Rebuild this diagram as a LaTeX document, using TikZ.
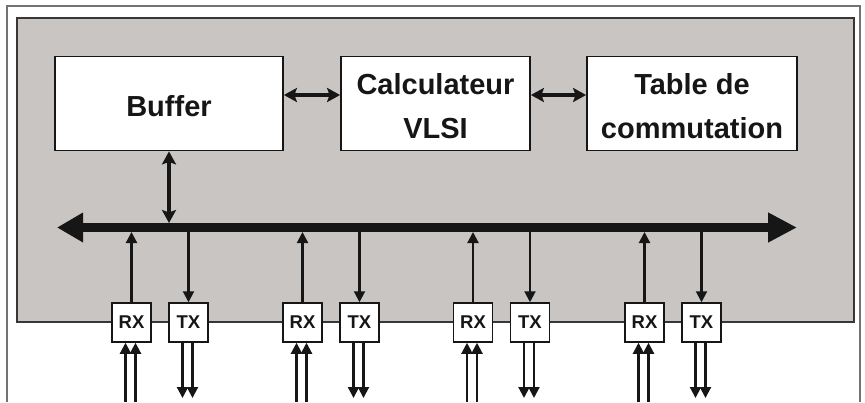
\documentclass[tikz,border=0pt]{standalone}
\usepackage{fontspec}
\setmainfont{Liberation Sans}
\usetikzlibrary{arrows.meta,calc}
\definecolor{panelgray}{RGB}{200,197,195}
\definecolor{ink}{RGB}{22,22,22}
\definecolor{framegray}{RGB}{115,115,115}
\definecolor{edgegray}{RGB}{55,55,55}
\tikzset{
  panelbox/.style={draw=edgegray, line width=2pt, fill=panelgray, inner sep=0pt,
    minimum width=837pt, minimum height=304pt},
  bigbox/.style={draw=ink, line width=1.8pt, fill=white, inner sep=0pt,
    minimum height=94pt},
  boxtext/.style={align=center, text=ink, inner sep=0pt, yshift=-3pt,
    font=\fontsize{29}{44}\selectfont\bfseries},
  portbox/.style={draw=ink, line width=1.5pt, fill=white, inner sep=0pt,
    minimum width=39pt, minimum height=39pt, text=ink,
    font=\fontsize{18.5}{20}\selectfont\bfseries},
  busline/.style={draw=ink, line width=9pt,
    {Triangle[length=26pt,width=28pt]}-{Triangle[length=29pt,width=28pt]}},
  linkarrow/.style={draw=ink, line width=3.2pt,
    {Stealth[length=13pt,width=14pt,inset=2.5pt]}-{Stealth[length=13pt,width=14pt,inset=2.5pt]}},
  thinarrow/.style={draw=ink, line width=2.1pt, -{Triangle[length=11pt,width=11pt]}},
}
\begin{document}
\begin{tikzpicture}[x=1pt,y=-1pt]
\useasboundingbox (0,0) rectangle (865,402);
% outer frame
\draw[framegray, line width=1.5pt] (7,402) -- (7,6) -- (860,6) -- (860,402);
% gray panel
\node[panelbox] (chassis) at (435.5,170) {};
% top boxes
\node[bigbox, minimum width=228pt, label={[boxtext]center:Buffer}] (buf) at (169,103.5) {};
\node[bigbox, minimum width=189pt, label={[boxtext]center:{Calculateur\\VLSI}}] (calc) at (435.5,103.5) {};
\node[bigbox, minimum width=210pt, label={[boxtext]center:{Table de\\commutation}}] (tab) at (692,103.5) {};
% helper coordinates
\coordinate (ylink) at (0,95);
\coordinate (bustop) at (0,223);
\coordinate (busbot) at (0,232);
\coordinate (busL) at (57,227.5);
\coordinate (busR) at (797,227.5);
% links between top boxes
\draw[linkarrow] (buf.east |- ylink) -- (calc.west |- ylink);
\draw[linkarrow] (calc.east |- ylink) -- (tab.west |- ylink);
% bus
\draw[busline] (busL) -- (busR);
% buffer to bus
\draw[linkarrow] (buf.south) -- (buf.south |- bustop);
% ports
\foreach \i/\c in {1/131.5, 2/302.5, 3/473, 4/644.5} {
  \node[portbox] (rx\i) at (\c,322.5) {RX};
  \node[portbox] (tx\i) at (\c+57,322.5) {TX};
  \draw[thinarrow] (rx\i.north) -- (rx\i.north |- busbot);
  \draw[thinarrow] (tx\i.north |- busbot) -- (tx\i.north);
  \coordinate (rxa\i) at (\c-6,402);
  \coordinate (rxb\i) at (\c+4,402);
  \coordinate (txa\i) at (\c+51,398);
  \coordinate (txb\i) at (\c+61,398);
  \draw[thinarrow] (rxa\i) -- (rxa\i |- rx\i.south);
  \draw[thinarrow] (rxb\i) -- (rxb\i |- rx\i.south);
  \draw[thinarrow] (txa\i |- tx\i.south) -- (txa\i);
  \draw[thinarrow] (txb\i |- tx\i.south) -- (txb\i);
}
\end{tikzpicture}
\end{document}
